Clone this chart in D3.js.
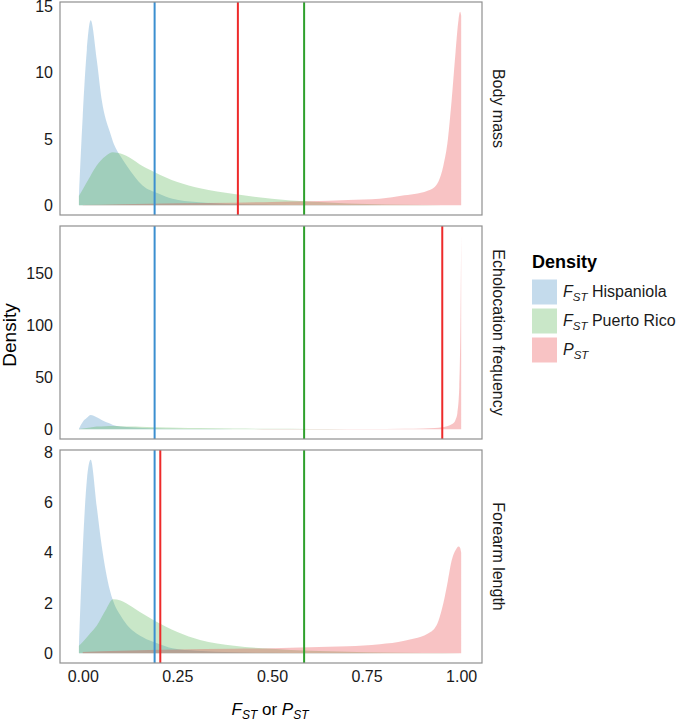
<!DOCTYPE html>
<html>
<head>
<meta charset="utf-8">
<script src="https://cdn.jsdelivr.net/npm/d3@7"></script>
<style>
  body { margin: 0; background: #fff; }
  svg { display: block; font-family: "Liberation Sans", Arial, Helvetica, sans-serif; }
</style>
</head>
<body>
<svg id="chart" width="685" height="722"></svg>
<script>
// ---------- data ----------
const panels = ["Body mass", "Echolocation frequency", "Forearm length"];
const seriesNames = ["FST Hispaniola", "FST Puerto Rico", "PST"];

// x grids (FST or PST values)
const xBlue  = [-0.01, 0, 0.011, 0.021, 0.037, 0.05, 0.072, 0.08, 0.1, 0.116, 0.158, 0.2, 0.237, 0.3, 0.4, 0.5, 0.6, 0.8, 1.0];
const xGreen = [-0.01, 0, 0.02, 0.037, 0.06, 0.08, 0.1, 0.13, 0.15, 0.19, 0.25, 0.31, 0.4, 0.5, 0.6, 0.7, 0.8, 0.9, 1.0];
const xPink  = [0.0, 0.1, 0.25, 0.4, 0.5, 0.6, 0.7, 0.785, 0.85, 0.92, 0.94, 0.953, 0.965, 0.975, 0.985, 0.993, 0.997, 1.0];
const xPinkEcho = [0.0, 0.25, 0.5, 0.75, 0.85, 0.9, 0.93, 0.95, 0.97, 0.98, 0.985, 0.99, 0.995, 0.998, 1.0];

// densities: Body mass
const bodyBlue  = [0.7, 6.7, 11.75, 13.95, 11.0, 8.0, 5.5, 4.8, 3.7, 3.0, 1.5, 0.9, 0.5, 0.25, 0.1, 0.05, 0.02, 0.01, 0];
const bodyGreen = [0.7, 1.2, 2.2, 3.0, 3.7, 4.0, 3.9, 3.5, 3.1, 2.5, 1.75, 1.28, 0.85, 0.5, 0.28, 0.14, 0.07, 0.03, 0.01];
const bodyPink  = [0.02, 0.08, 0.15, 0.2, 0.25, 0.3, 0.4, 0.5, 0.75, 1.2, 1.8, 3.0, 5.0, 8.0, 11.5, 14.0, 14.6, 14.3];

// densities: Echolocation frequency
const echoBlue  = [0.5, 7, 11, 13.7, 11.5, 9, 5.5, 4.2, 2.8, 2.2, 1.3, 0.8, 0.5, 0.3, 0.15, 0.08, 0.04, 0.02, 0];
const echoGreen = [0.3, 0.8, 1.8, 2.6, 3.0, 3.1, 3.0, 2.7, 2.5, 2.1, 1.6, 1.2, 0.8, 0.5, 0.3, 0.15, 0.08, 0.04, 0.01];
const echoPink  = [0.05, 0.1, 0.2, 0.3, 0.5, 0.8, 1.2, 2, 4, 6, 9, 16, 41, 100, 186];

// densities: Forearm length
const foreBlue  = [0.26, 4.1, 6.9, 7.7, 5.84, 4.3, 2.5, 2.1, 1.5, 1.15, 0.65, 0.38, 0.2, 0.1, 0.04, 0.02, 0.01, 0.005, 0];
const foreGreen = [0.3, 0.45, 0.8, 1.1, 1.7, 2.15, 2.1, 1.85, 1.65, 1.3, 0.85, 0.53, 0.3, 0.18, 0.1, 0.06, 0.03, 0.01, 0.005];
const forePink  = [0.05, 0.1, 0.15, 0.18, 0.2, 0.24, 0.28, 0.36, 0.5, 0.86, 1.3, 2.0, 2.9, 3.7, 4.1, 4.25, 4.2, 4.0];

// vertical reference lines
const fstHispaniola = 0.19;
const fstPuertoRico = 0.585;
const pstValues = [0.41, 0.95, 0.205];

// tick values
const xTicks = [0, 0.25, 0.5, 0.75, 1.0];
const yTicksList = [[0, 5, 10, 15], [0, 50, 100, 150], [0, 2, 4, 6, 8]];

// ---------- build ----------
const panelSeries = [
  [[xBlue, bodyBlue], [xGreen, bodyGreen], [xPink, bodyPink]],
  [[xBlue, echoBlue], [xGreen, echoGreen], [xPinkEcho, echoPink]],
  [[xBlue, foreBlue], [xGreen, foreGreen], [xPink, forePink]]
];

const fillColors = ["#3a87c0", "#4db04a", "#e8383a"];
const fillOpacity = 0.3;
const lineColors = { blue: "#3b8fd0", green: "#2ea02c", red: "#ee2a2a" };

const svg = d3.select("#chart");
const left = 60, right = 482;
const panelTops = [2, 226, 450];
const panelH = 213;

const x = d3.scaleLinear().domain([-0.06, 1.055]).range([left, right]);

panels.forEach((name, i) => {
  const top = panelTops[i], bottom = top + panelH;
  const series = panelSeries[i];
  const maxY = d3.max(series, s => d3.max(s[1]));
  const y = d3.scaleLinear().domain([-0.05 * maxY, 1.05 * maxY]).range([bottom, top]);
  const g = svg.append("g");

  const area = d3.area()
    .x(d => x(d[0]))
    .y0(y(0))
    .y1(d => y(d[1]))
    .curve(d3.curveMonotoneX);

  series.forEach((s, k) => {
    const pts = s[0].map((xv, j) => [xv, s[1][j]]);
    g.append("path")
      .attr("d", area(pts))
      .attr("fill", fillColors[k])
      .attr("fill-opacity", fillOpacity);
  });

  // vertical lines
  const vls = [[fstHispaniola, lineColors.blue], [fstPuertoRico, lineColors.green], [pstValues[i], lineColors.red]];
  vls.forEach(([v, c]) => {
    g.append("line")
      .attr("x1", x(v)).attr("x2", x(v))
      .attr("y1", top).attr("y2", bottom)
      .attr("stroke", c).attr("stroke-width", 2);
  });

  // border
  g.append("rect")
    .attr("x", left).attr("y", top)
    .attr("width", right - left).attr("height", panelH)
    .attr("fill", "none").attr("stroke", "#8f8f8f").attr("stroke-width", 1.2);

  // y axis labels
  const yAxis = d3.axisLeft(y).tickValues(yTicksList[i]).tickSize(0).tickPadding(7).tickFormat(d3.format("d"));
  const ya = g.append("g").attr("transform", `translate(${left},0)`).call(yAxis);
  ya.select(".domain").remove();
  ya.selectAll("text").attr("font-size", 16).attr("fill", "#1a1a1a")
    .attr("font-family", "Liberation Sans, Arial, sans-serif");

  // strip label
  g.append("text")
    .attr("transform", `translate(498,${top + panelH / 2}) rotate(90)`)
    .attr("text-anchor", "middle")
    .attr("dominant-baseline", "central")
    .attr("font-size", 16)
    .attr("fill", "#1a1a1a")
    .text(name);

  if (i === 2) {
    const xAxis = d3.axisBottom(x).tickValues(xTicks).tickSize(0).tickPadding(8).tickFormat(d3.format(".2f"));
    const xa = g.append("g").attr("transform", `translate(0,${bottom})`).call(xAxis);
    xa.select(".domain").remove();
    xa.selectAll("text").attr("font-size", 16).attr("fill", "#1a1a1a")
      .attr("font-family", "Liberation Sans, Arial, sans-serif");
  }
});

// y title
svg.append("text")
  .attr("transform", "translate(9,335) rotate(-90)")
  .attr("text-anchor", "middle")
  .attr("dominant-baseline", "central")
  .attr("font-size", 19)
  .attr("fill", "#000")
  .text("Density");

// x title
const xt = svg.append("text")
  .attr("x", 270).attr("y", 715)
  .attr("text-anchor", "middle")
  .attr("font-size", 17)
  .attr("fill", "#000");
xt.append("tspan").attr("font-style", "italic").text("F");
xt.append("tspan").attr("font-style", "italic").attr("font-size", 12).attr("baseline-shift", "-4").text("ST");
xt.append("tspan").text(" or ");
xt.append("tspan").attr("font-style", "italic").text("P");
xt.append("tspan").attr("font-style", "italic").attr("font-size", 12).attr("baseline-shift", "-4").text("ST");

// legend
const lg = svg.append("g");
lg.append("text")
  .attr("x", 532).attr("y", 268)
  .attr("font-size", 18).attr("font-weight", "bold").attr("fill", "#000")
  .text("Density");
const keyTops = [279.5, 308.5, 337.5];
const legendParts = [["F", "ST", " Hispaniola"], ["F", "ST", " Puerto Rico"], ["P", "ST", ""]];
legendParts.forEach((p, k) => {
  lg.append("rect")
    .attr("x", 532).attr("y", keyTops[k])
    .attr("width", 25).attr("height", 25)
    .attr("fill", fillColors[k]).attr("fill-opacity", fillOpacity);
  const t = lg.append("text")
    .attr("x", 563).attr("y", keyTops[k] + 17)
    .attr("font-size", 16).attr("fill", "#1a1a1a");
  t.append("tspan").attr("font-style", "italic").text(p[0]);
  t.append("tspan").attr("font-style", "italic").attr("font-size", 11.5).attr("baseline-shift", "-4").text(p[1]);
  if (p[2]) t.append("tspan").text(p[2]);
});
</script>
</body>
</html>
